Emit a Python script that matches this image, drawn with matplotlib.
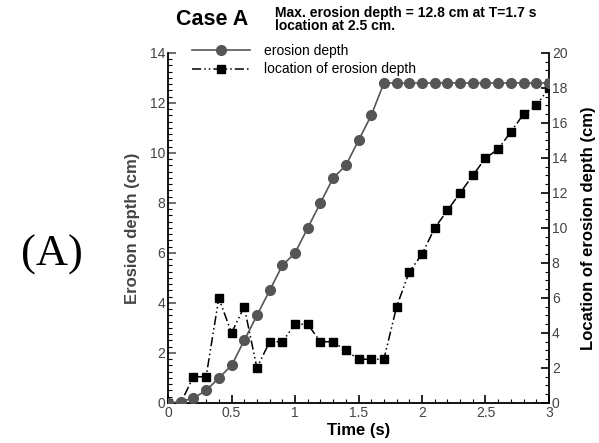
import matplotlib.pyplot as plt
from matplotlib.ticker import MultipleLocator

plt.rcParams['font.family'] = ['Liberation Sans', 'DejaVu Sans']

# time steps (s)
time = [0.0, 0.1, 0.2, 0.3, 0.4, 0.5, 0.6, 0.7, 0.8, 0.9, 1.0,
        1.1, 1.2, 1.3, 1.4, 1.5, 1.6, 1.7, 1.8, 1.9, 2.0,
        2.1, 2.2, 2.3, 2.4, 2.5, 2.6, 2.7, 2.8, 2.9, 3.0]

# maximum erosion depth (cm)
erosion_depth = [0.0, 0.05, 0.2, 0.5, 1.0, 1.5, 2.5, 3.5, 4.5, 5.5, 6.0,
                 7.0, 8.0, 9.0, 9.5, 10.5, 11.5, 12.8, 12.8, 12.8, 12.8,
                 12.8, 12.8, 12.8, 12.8, 12.8, 12.8, 12.8, 12.8, 12.8, 12.8]

# where the maximum erosion happens (cm)
erosion_location = [0.0, 0.0, 1.5, 1.5, 6.0, 4.0, 5.5, 2.0, 3.5, 3.5, 4.5,
                    4.5, 3.5, 3.5, 3.0, 2.5, 2.5, 2.5, 5.5, 7.5, 8.5,
                    10.0, 11.0, 12.0, 13.0, 14.0, 14.5, 15.5, 16.5, 17.0, 18.0]

fig = plt.figure(figsize=(5.99, 4.43), dpi=100)
ax = fig.add_axes([0.2805, 0.0903, 0.636, 0.7901])
ax2 = ax.twinx()

l1, = ax.plot(time, erosion_depth, color='#555555', lw=1.2, marker='o',
              ms=7, mfc='#555555', mec='#555555', label='erosion depth',
              zorder=3)
l2, = ax2.plot(time, erosion_location, color='black', lw=1.1,
               linestyle=(0, (6, 2, 1, 2, 1, 2)), marker='s', ms=5.5,
               mfc='black', mec='black', label='location of erosion depth')

ax.set_xlim(0, 3)
ax.set_ylim(0, 14)
ax2.set_ylim(0, 20)
ax.set_zorder(ax2.get_zorder() + 1)
ax.patch.set_visible(False)

ax.xaxis.set_major_locator(MultipleLocator(0.5))
ax.xaxis.set_minor_locator(MultipleLocator(0.1))
ax.yaxis.set_major_locator(MultipleLocator(2))
ax.yaxis.set_minor_locator(MultipleLocator(0.25))
ax2.yaxis.set_major_locator(MultipleLocator(2))
ax2.yaxis.set_minor_locator(MultipleLocator(0.5))
ax.set_xticks([0, 0.5, 1, 1.5, 2, 2.5, 3])
ax.set_xticklabels(['0', '0.5', '1', '1.5', '2', '2.5', '3'])

for a in (ax, ax2):
    a.spines['top'].set_visible(False)
    a.tick_params(which='major', direction='in', length=6, width=1.2,
                  labelsize=10, labelcolor='#444444', pad=2)
    a.tick_params(which='minor', direction='in', length=3, width=0.8)
ax2.spines['left'].set_visible(False)
ax2.spines['bottom'].set_visible(False)
ax.spines['right'].set_visible(False)
for s in ('left', 'bottom'):
    ax.spines[s].set_linewidth(1.3)
ax2.spines['right'].set_linewidth(1.3)
ax.tick_params(axis='y', colors='#555555', labelcolor='#444444')

ax.set_xlabel('Time (s)', fontsize=12, fontweight='bold', labelpad=2)
ax.set_ylabel('Erosion depth (cm)', fontsize=12, fontweight='bold',
              color='#444444', labelpad=7)
ax2.set_ylabel('Location of erosion depth (cm)', fontsize=12,
               fontweight='bold', labelpad=10)

ax.legend(handles=[l1, l2], loc='upper left', bbox_to_anchor=(0.063, 1.025),
          frameon=False, fontsize=10, handlelength=4.2, handletextpad=1.0,
          labelspacing=0.3, borderaxespad=0, borderpad=0)

fig.text(0.294, 0.955, 'Case A', fontsize=15.5, fontweight='bold',
         va='center', ha='left')
fig.text(0.459, 0.955, 'Max. erosion depth = 12.8 cm at T=1.7 s\nlocation at 2.5 cm.',
         fontsize=10, fontweight='bold', va='center', ha='left',
         linespacing=0.9)
fig.text(0.086, 0.424, '(A)', fontsize=32, family=['Liberation Serif', 'DejaVu Serif'],
         va='center', ha='center')

fig.savefig('out.png', dpi=100)
